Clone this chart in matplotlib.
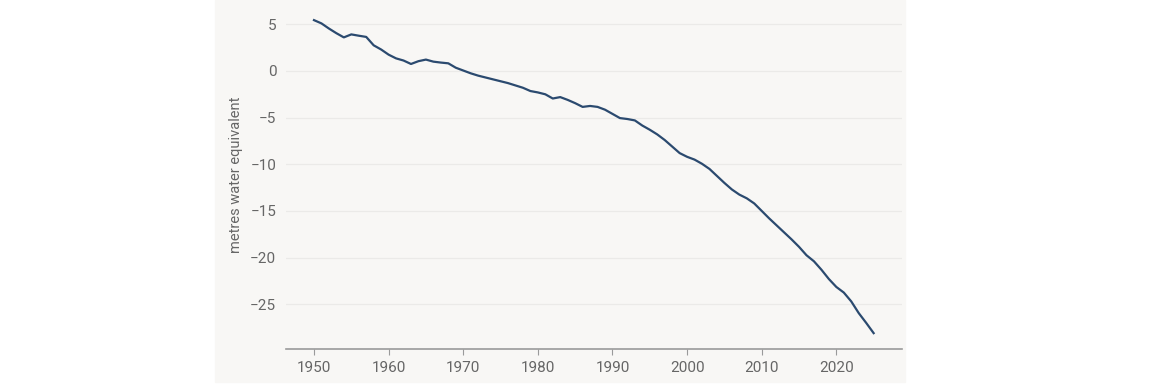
import matplotlib.pyplot as plt
import matplotlib.patches as patches
import numpy as np

# cumulative mass balance, metres water equivalent
years = np.arange(1950, 2026)
values = [5.45, 5.1, 4.55, 4.05, 3.6, 3.92, 3.78, 3.65, 2.75, 2.3,
          1.75, 1.35, 1.12, 0.75, 1.05, 1.22, 1.0, 0.9, 0.82, 0.35,
          0.05, -0.25, -0.5, -0.7, -0.9, -1.1, -1.3, -1.55, -1.8, -2.15,
          -2.3, -2.5, -2.95, -2.8, -3.1, -3.45, -3.85, -3.75, -3.85, -4.15,
          -4.6, -5.05, -5.15, -5.3, -5.85, -6.3, -6.8, -7.4, -8.1, -8.8,
          -9.2, -9.5, -9.95, -10.5, -11.25, -12.0, -12.7, -13.25, -13.65, -14.2,
          -15.0, -15.8, -16.55, -17.3, -18.05, -18.85, -19.75, -20.4, -21.3, -22.3,
          -23.15, -23.75, -24.7, -25.95, -27.0, -28.1]
yticks = [5, 0, -5, -10, -15, -20, -25]
xticks = [1950, 1960, 1970, 1980, 1990, 2000, 2010, 2020]

plt.rcParams['font.family'] = ['Roboto', 'DejaVu Sans']
bg = '#f8f7f5'

fig = plt.figure(figsize=(11.7, 3.9), dpi=100)
fig.add_artist(patches.Rectangle((215/1170, 8/390), 690/1170, 382/390,
                                 transform=fig.transFigure, color=bg, zorder=-10))

ax = fig.add_axes([286/1170, 41/390, 616/1170, 348/390])
ax.set_zorder(1)
ax.set_facecolor(bg)
ax.plot(years, values, color='#2b4a6f', linewidth=1.6, zorder=3)

ax.set_xlim(1946.25, 2028.8)
ax.set_ylim(-29.8, 7.5)
ax.set_yticks(yticks)
ax.set_yticklabels([str(t).replace('-', '\u2212') for t in yticks])
ax.set_xticks(xticks)
ax.grid(axis='y', color='#ebeae8', linewidth=0.9)
ax.set_axisbelow(True)
for s in ['top', 'right', 'left']:
    ax.spines[s].set_visible(False)
ax.spines['bottom'].set_color('#9a9a9a')
ax.spines['bottom'].set_linewidth(1.2)
ax.tick_params(axis='y', length=0, pad=7, labelsize=11, labelcolor='#666666')
ax.tick_params(axis='x', length=4, color='#9a9a9a', pad=5, labelsize=11, labelcolor='#666666')
ax.set_ylabel('metres water equivalent', fontsize=10.5, color='#666666', labelpad=5)

plt.savefig('out.png', dpi=100)
